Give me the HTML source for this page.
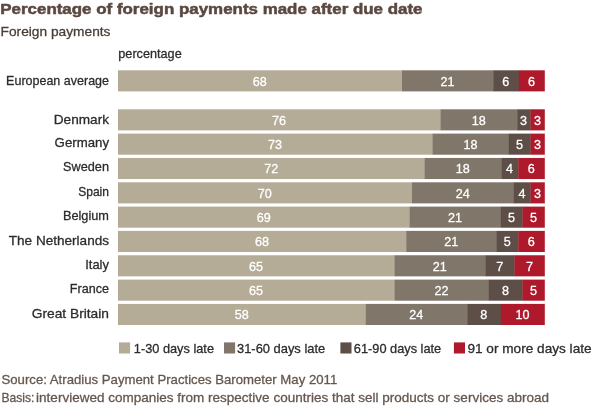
<!DOCTYPE html>
<html lang="en"><head><meta charset="utf-8"><title>Percentage of foreign payments made after due date</title>
<style>
html,body{margin:0;padding:0;background:#fff;}
body{width:600px;height:408px;overflow:hidden;}
svg{display:block;font-family:"Liberation Sans",sans-serif;}
text{stroke-width:0.3px;stroke-linejoin:round;}
.t{font-weight:bold;font-size:14.6px;fill:#5B4840;stroke:#5B4840;stroke-width:0.5px;}
.s{font-size:13.6px;fill:#4A3E38;stroke:#4A3E38;}
.l{font-size:13.6px;fill:#2C2C2C;stroke:#2C2C2C;}
.n{font-size:13.6px;fill:#fff;stroke:#fff;text-anchor:middle;}
.f{font-size:13.6px;fill:#65574E;stroke:#65574E;}
</style></head><body>
<svg width="600" height="408" viewBox="0 0 600 408">
<rect width="600" height="408" fill="#fff"/>
<text class="t" x="0.3" y="14.0" textLength="422.2" lengthAdjust="spacingAndGlyphs">Percentage of foreign payments made after due date</text>
<text class="s" x="0.6" y="35.5" textLength="109.9" lengthAdjust="spacingAndGlyphs">Foreign payments</text>
<text class="l" x="118.3" y="57.8" textLength="63.4" lengthAdjust="spacingAndGlyphs">percentage</text>
<rect x="118.0" y="70.30" width="284.3" height="21.10" fill="#B5AC97"/>
<rect x="402.0" y="70.30" width="91.5" height="21.10" fill="#80766A"/>
<rect x="493.2" y="70.30" width="25.9" height="21.10" fill="#5D4F48"/>
<rect x="518.8" y="70.30" width="26.0" height="21.10" fill="#AE1A2B"/>
<text class="l" x="6.1" y="85.2" textLength="102.9" lengthAdjust="spacingAndGlyphs">European average</text>
<text class="n" x="259.8" y="85.5" textLength="14.0" lengthAdjust="spacingAndGlyphs">68</text>
<text class="n" x="447.4" y="85.5" textLength="14.0" lengthAdjust="spacingAndGlyphs">21</text>
<text class="n" x="505.8" y="85.5" textLength="7.0" lengthAdjust="spacingAndGlyphs">6</text>
<text class="n" x="531.6" y="85.5" textLength="7.0" lengthAdjust="spacingAndGlyphs">6</text>
<rect x="118.0" y="109.30" width="322.8" height="21.10" fill="#B5AC97"/>
<rect x="440.5" y="109.30" width="77.0" height="21.10" fill="#80766A"/>
<rect x="517.2" y="109.30" width="13.6" height="21.10" fill="#5D4F48"/>
<rect x="530.5" y="109.30" width="14.3" height="21.10" fill="#AE1A2B"/>
<text class="l" x="53.8" y="123.9" textLength="55.2" lengthAdjust="spacingAndGlyphs">Denmark</text>
<text class="n" x="279.1" y="124.5" textLength="14.0" lengthAdjust="spacingAndGlyphs">76</text>
<text class="n" x="478.7" y="124.5" textLength="14.0" lengthAdjust="spacingAndGlyphs">18</text>
<text class="n" x="523.6" y="124.5" textLength="7.0" lengthAdjust="spacingAndGlyphs">3</text>
<text class="n" x="537.4" y="124.5" textLength="7.0" lengthAdjust="spacingAndGlyphs">3</text>
<rect x="118.0" y="133.60" width="314.8" height="21.10" fill="#B5AC97"/>
<rect x="432.5" y="133.60" width="76.6" height="21.10" fill="#80766A"/>
<rect x="508.8" y="133.60" width="22.0" height="21.10" fill="#5D4F48"/>
<rect x="530.5" y="133.60" width="14.3" height="21.10" fill="#AE1A2B"/>
<text class="l" x="54.6" y="147.1" textLength="54.4" lengthAdjust="spacingAndGlyphs">Germany</text>
<text class="n" x="275.1" y="148.8" textLength="14.0" lengthAdjust="spacingAndGlyphs">73</text>
<text class="n" x="470.4" y="148.8" textLength="14.0" lengthAdjust="spacingAndGlyphs">18</text>
<text class="n" x="519.4" y="148.8" textLength="7.0" lengthAdjust="spacingAndGlyphs">5</text>
<text class="n" x="537.4" y="148.8" textLength="7.0" lengthAdjust="spacingAndGlyphs">3</text>
<rect x="118.0" y="157.95" width="307.0" height="21.10" fill="#B5AC97"/>
<rect x="424.7" y="157.95" width="76.9" height="21.10" fill="#80766A"/>
<rect x="501.3" y="157.95" width="17.3" height="21.10" fill="#5D4F48"/>
<rect x="518.3" y="157.95" width="26.5" height="21.10" fill="#AE1A2B"/>
<text class="l" x="63.1" y="171.1" textLength="45.9" lengthAdjust="spacingAndGlyphs">Sweden</text>
<text class="n" x="271.2" y="173.1" textLength="14.0" lengthAdjust="spacingAndGlyphs">72</text>
<text class="n" x="462.8" y="173.1" textLength="14.0" lengthAdjust="spacingAndGlyphs">18</text>
<text class="n" x="509.6" y="173.1" textLength="7.0" lengthAdjust="spacingAndGlyphs">4</text>
<text class="n" x="531.3" y="173.1" textLength="7.0" lengthAdjust="spacingAndGlyphs">6</text>
<rect x="118.0" y="182.30" width="294.3" height="21.10" fill="#B5AC97"/>
<rect x="412.0" y="182.30" width="102.1" height="21.10" fill="#80766A"/>
<rect x="513.8" y="182.30" width="17.0" height="21.10" fill="#5D4F48"/>
<rect x="530.5" y="182.30" width="14.3" height="21.10" fill="#AE1A2B"/>
<text class="l" x="78.2" y="196.0" textLength="30.8" lengthAdjust="spacingAndGlyphs">Spain</text>
<text class="n" x="264.8" y="197.5" textLength="14.0" lengthAdjust="spacingAndGlyphs">70</text>
<text class="n" x="462.7" y="197.5" textLength="14.0" lengthAdjust="spacingAndGlyphs">24</text>
<text class="n" x="521.9" y="197.5" textLength="7.0" lengthAdjust="spacingAndGlyphs">4</text>
<text class="n" x="537.4" y="197.5" textLength="7.0" lengthAdjust="spacingAndGlyphs">3</text>
<rect x="118.0" y="206.60" width="292.0" height="21.10" fill="#B5AC97"/>
<rect x="409.7" y="206.60" width="91.4" height="21.10" fill="#80766A"/>
<rect x="500.8" y="206.60" width="22.0" height="21.10" fill="#5D4F48"/>
<rect x="522.5" y="206.60" width="22.3" height="21.10" fill="#AE1A2B"/>
<text class="l" x="62.9" y="220.2" textLength="46.1" lengthAdjust="spacingAndGlyphs">Belgium</text>
<text class="n" x="263.7" y="221.8" textLength="14.0" lengthAdjust="spacingAndGlyphs">69</text>
<text class="n" x="455.1" y="221.8" textLength="14.0" lengthAdjust="spacingAndGlyphs">21</text>
<text class="n" x="511.4" y="221.8" textLength="7.0" lengthAdjust="spacingAndGlyphs">5</text>
<text class="n" x="533.4" y="221.8" textLength="7.0" lengthAdjust="spacingAndGlyphs">5</text>
<rect x="118.0" y="230.90" width="288.5" height="21.10" fill="#B5AC97"/>
<rect x="406.2" y="230.90" width="90.8" height="21.10" fill="#80766A"/>
<rect x="496.7" y="230.90" width="21.9" height="21.10" fill="#5D4F48"/>
<rect x="518.3" y="230.90" width="26.5" height="21.10" fill="#AE1A2B"/>
<text class="l" x="8.8" y="244.7" textLength="100.2" lengthAdjust="spacingAndGlyphs">The Netherlands</text>
<text class="n" x="261.9" y="246.1" textLength="14.0" lengthAdjust="spacingAndGlyphs">68</text>
<text class="n" x="451.2" y="246.1" textLength="14.0" lengthAdjust="spacingAndGlyphs">21</text>
<text class="n" x="507.3" y="246.1" textLength="7.0" lengthAdjust="spacingAndGlyphs">5</text>
<text class="n" x="531.3" y="246.1" textLength="7.0" lengthAdjust="spacingAndGlyphs">6</text>
<rect x="118.0" y="255.25" width="276.8" height="21.10" fill="#B5AC97"/>
<rect x="394.5" y="255.25" width="91.1" height="21.10" fill="#80766A"/>
<rect x="485.3" y="255.25" width="29.5" height="21.10" fill="#5D4F48"/>
<rect x="514.5" y="255.25" width="30.3" height="21.10" fill="#AE1A2B"/>
<text class="l" x="85.2" y="268.7" textLength="23.8" lengthAdjust="spacingAndGlyphs">Italy</text>
<text class="n" x="256.1" y="270.5" textLength="14.0" lengthAdjust="spacingAndGlyphs">65</text>
<text class="n" x="439.7" y="270.5" textLength="14.0" lengthAdjust="spacingAndGlyphs">21</text>
<text class="n" x="499.7" y="270.5" textLength="7.0" lengthAdjust="spacingAndGlyphs">7</text>
<text class="n" x="529.4" y="270.5" textLength="7.0" lengthAdjust="spacingAndGlyphs">7</text>
<rect x="118.0" y="279.60" width="276.8" height="21.10" fill="#B5AC97"/>
<rect x="394.5" y="279.60" width="94.6" height="21.10" fill="#80766A"/>
<rect x="488.8" y="279.60" width="34.0" height="21.10" fill="#5D4F48"/>
<rect x="522.5" y="279.60" width="22.3" height="21.10" fill="#AE1A2B"/>
<text class="l" x="69.8" y="292.8" textLength="39.2" lengthAdjust="spacingAndGlyphs">France</text>
<text class="n" x="256.1" y="294.8" textLength="14.0" lengthAdjust="spacingAndGlyphs">65</text>
<text class="n" x="441.4" y="294.8" textLength="14.0" lengthAdjust="spacingAndGlyphs">22</text>
<text class="n" x="505.4" y="294.8" textLength="7.0" lengthAdjust="spacingAndGlyphs">8</text>
<text class="n" x="533.4" y="294.8" textLength="7.0" lengthAdjust="spacingAndGlyphs">5</text>
<rect x="118.0" y="303.90" width="248.1" height="21.10" fill="#B5AC97"/>
<rect x="365.8" y="303.90" width="101.7" height="21.10" fill="#80766A"/>
<rect x="467.2" y="303.90" width="33.9" height="21.10" fill="#5D4F48"/>
<rect x="500.8" y="303.90" width="44.0" height="21.10" fill="#AE1A2B"/>
<text class="l" x="31.7" y="318.1" textLength="77.3" lengthAdjust="spacingAndGlyphs">Great Britain</text>
<text class="n" x="241.7" y="319.1" textLength="14.0" lengthAdjust="spacingAndGlyphs">58</text>
<text class="n" x="416.3" y="319.1" textLength="14.0" lengthAdjust="spacingAndGlyphs">24</text>
<text class="n" x="483.8" y="319.1" textLength="7.0" lengthAdjust="spacingAndGlyphs">8</text>
<text class="n" x="522.6" y="319.1" textLength="14.0" lengthAdjust="spacingAndGlyphs">10</text>
<rect x="119.0" y="342.4" width="11.1" height="11.1" fill="#B5AC97"/>
<text class="l" x="133.8" y="353" textLength="80.2" lengthAdjust="spacingAndGlyphs">1-30 days late</text>
<rect x="224.0" y="342.4" width="11.1" height="11.1" fill="#80766A"/>
<text class="l" x="237.0" y="353" textLength="88.2" lengthAdjust="spacingAndGlyphs">31-60 days late</text>
<rect x="340.4" y="342.4" width="11.1" height="11.1" fill="#5D4F48"/>
<text class="l" x="353.8" y="353" textLength="87.4" lengthAdjust="spacingAndGlyphs">61-90 days late</text>
<rect x="453.9" y="342.4" width="11.1" height="11.1" fill="#AE1A2B"/>
<text class="l" x="467.4" y="353" textLength="124.2" lengthAdjust="spacingAndGlyphs">91 or more days late</text>
<text class="f" x="1.5" y="384.1" textLength="335.7" lengthAdjust="spacingAndGlyphs">Source: Atradius Payment Practices Barometer May 2011</text>
<text class="f" y="401.7"><tspan x="1.5" textLength="33.0" lengthAdjust="spacingAndGlyphs">Basis:</tspan> <tspan x="36.1" textLength="512.9" lengthAdjust="spacingAndGlyphs">interviewed companies from respective countries that sell products or services abroad</tspan></text>
</svg></body></html>
